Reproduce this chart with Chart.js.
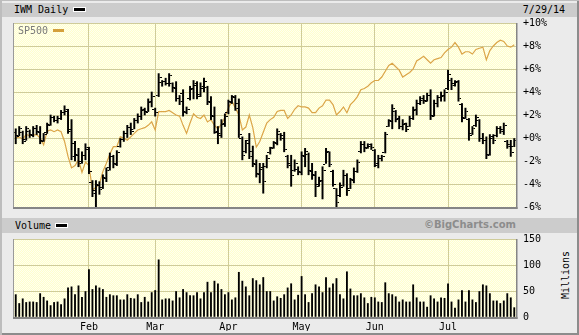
<!DOCTYPE html>
<html>
<head>
<meta charset="utf-8">
<script src="https://cdn.jsdelivr.net/npm/chart.js@4.4.1/dist/chart.umd.min.js"></script>
<style>
  body { margin: 0; }
  #wrap { position: relative; width: 579px; height: 335px; background: #ebebeb; overflow: hidden;
          font-family: "DejaVu Sans Mono", monospace; font-size: 10px; color: #000;
          box-shadow: inset 2px 1px 0 #bdbdbd, inset -2px -2px 0 #8c8c8c; }
  .band { position: absolute; left: 2px; width: 575px; background: #cccccc; }
  .txt { position: absolute; line-height: 12px; white-space: nowrap; }
  .dash { position: absolute; width: 11px; height: 3px; background: #000; border: 1px solid #fff; }
  canvas { position: absolute; left: 0; }
</style>
</head>
<body>
<div id="wrap">
  <div class="band" style="top:3px;height:14px"></div>
  <div class="txt" style="left:14px;top:4px">IWM Daily</div>
  <div class="dash" style="left:73px;top:7px"></div>
  <div class="txt" style="right:14px;top:4px">7/29/14</div>

  <div class="band" style="top:218px;height:15px"></div>
  <div class="txt" style="left:15px;top:220px">Volume</div>
  <div class="dash" style="left:55px;top:223px"></div>
  <div class="txt" style="right:63px;top:219px;font-family:'DejaVu Sans',sans-serif;font-weight:bold;color:#8c8c8c">©BigCharts.com</div>
  <div class="txt" style="left:541px;top:269px;width:50px;text-align:center;transform:rotate(-90deg)">Millions</div>

  <canvas id="graficoPreco" width="579" height="220" style="top:0"></canvas>
  <canvas id="graficoVolume" width="579" height="109" style="top:226px"></canvas>

  <div class="txt" style="left:18px;top:25px;color:#7a7a7a">SP500</div>
  <div style="position:absolute;left:53px;top:29px;width:11px;height:3px;background:#d4a03c"></div>
</div>

<script>
// trading days per month, Jan-Jul 2014
const diasJan = [2,3,6,7,8,9,10,13,14,15,16,17,21,22,23,24,27,28,29,30,31];
const diasFev = [3,4,5,6,7,10,11,12,13,14,18,19,20,21,24,25,26,27,28];
const diasMar = [3,4,5,6,7,10,11,12,13,14,17,18,19,20,21,24,25,26,27,28,31];
const diasAbr = [1,2,3,4,7,8,9,10,11,14,15,16,17,21,22,23,24,25,28,29,30];
const diasMai = [1,2,5,6,7,8,9,12,13,14,15,16,19,20,21,22,23,27,28,29,30];
const diasJun = [2,3,4,5,6,9,10,11,12,13,16,17,18,19,20,23,24,25,26,27,30];
const diasJul = [1,2,3,7,8,9,10,11,14,15,16,17,18,21,22,23,24,25,28,29];
const meses = ['Jan', 'Feb', 'Mar', 'Apr', 'May', 'Jun', 'Jul'];

// IWM, % change
const abertura = [0.5,0.2,0.5,-0.1,0.6,0.3,0.8,0.6,-0.2,0.5, 1.2,1.8,1.5,1.7,2.2,2.3,0.6,-0.5,-1.4,-2.0, -1.5,-1.0,-3.9,-4.6,-4.0,-4.3,-3.4,-2.6,-1.6,-2.2, -0.7,-0.1,0.4,0.9,0.7,1.5,1.9,2.4,2.3,3.1, 2.5,3.7,4.8,4.9,4.7,4.7,4.4,3.4,3.9,2.3, 3.4,4.2,4.6,3.8,4.3,4.4,3.2,2.0,0.5,0.4, 1.2,2.2,3.2,3.6,3.0,0.0,-1.2,-0.2,-1.2,-2.2, -3.1,-2.7,-2.5,-1.3,-0.8,-0.4,0.3,0.2,-1.6,-2.2, -2.8,-2.7,-2.9,-1.5,-1.4,-2.8,-3.2,-4.0,-3.8,-2.3, -1.3,-2.9,-4.4,-5.0,-4.1,-3.3,-4.4,-3.6,-2.9,-1.2, -0.6,-0.8,-0.7,-1.1,-2.4,-1.8,-1.3,1.0,1.5,2.3, 1.6,1.0,1.2,1.0,1.7,2.4,3.0,3.3,3.3,3.7, 2.0,3.0,3.5,3.6,4.3,5.0,4.7,4.8,2.9,1.8, 1.6,0.4,1.1,1.5,0.0,-0.2,-1.4,0.0,0.2,0.8, 0.7,-0.3,-0.6,-0.7];
const maxima = [0.8,1.0,0.6,1.0,0.7,1.0,1.1,1.0,0.4,1.3, 2.0,1.9,1.9,2.4,2.8,2.5,1.6,-0.3,-0.9,-1.2, -0.5,-0.8,-3.7,-3.7,-3.8,-3.2,-2.6,-1.3,-1.5,-1.1, 0.0,0.6,1.1,1.3,1.7,2.1,2.7,2.6,3.4,4.0, 2.6,5.6,5.0,5.2,5.6,4.8,4.9,3.7,4.2,2.7, 4.5,5.0,4.9,4.8,5.2,4.5,3.6,2.7,1.0,1.6, 2.1,3.3,3.7,3.7,3.4,0.1,-0.2,0.4,-0.7,-1.9, -2.2,-2.2,-1.5,-0.8,-0.3,0.8,0.4,0.5,-1.5,-1.5, -1.9,-2.5,-1.2,-0.9,-1.3,-2.2,-2.9,-3.4,-2.5,-0.9, -1.2,-2.8,-4.4,-3.9,-2.8,-3.1,-3.5,-2.6,-1.9,-0.3, -0.3,-0.5,-0.5,-1.0,-1.5,-1.5,0.5,1.6,2.9,2.4, 1.9,1.6,1.3,1.9,2.7,3.3,3.6,3.7,3.9,4.2, 3.3,3.7,4.0,4.2,5.9,5.2,5.0,5.0,3.0,2.6, 1.7,1.0,2.0,1.6,0.4,0.1,0.3,0.3,1.0,1.0, 1.3,-0.2,-0.2,0.0];
const minimas = [-0.5,0.2,-0.5,-0.2,0.0,0.1,0.3,-0.5,-0.3,0.4, 1.1,1.4,1.3,1.6,2.0,0.4,-1.9,-2.0,-2.5,-2.2, -1.9,-3.1,-5.1,-6.05,-4.9,-4.4,-3.8,-2.8,-2.6,-2.4, -0.8,-0.3,0.0,0.3,0.8,1.3,1.6,2.0,2.3,2.7, 1.9,3.6,4.5,4.6,4.5,4.0,3.2,2.9,1.9,2.1, 3.3,3.4,3.4,3.6,4.0,2.9,1.6,0.4,-0.5,0.0, 1.0,2.1,3.0,2.4,0.0,-1.9,-1.3,-1.8,-2.5,-3.4, -3.9,-4.8,-2.6,-1.4,-0.9,-0.6,-0.2,-1.2,-2.6,-4.2, -2.9,-3.2,-3.2,-2.5,-3.2,-3.6,-5.1,-4.2,-5.3,-2.2, -2.5,-4.2,-6.0,-5.1,-4.2,-5.0,-4.4,-3.9,-3.0,-1.3, -1.2,-0.9,-1.0,-2.5,-2.6,-2.0,-1.3,1.0,0.8,1.4, 0.8,0.7,0.55,1.0,1.6,2.0,2.9,3.0,3.2,1.6, 1.9,2.7,3.2,3.2,4.2,4.2,4.5,3.2,1.4,1.7, -0.2,0.3,1.0,-0.3,-0.5,-1.8,-1.5,-0.5,0.1,0.4, 0.3,-0.9,-1.6,-0.75];
const fechamento = [0.1,0.8,-0.3,0.8,0.2,0.8,0.5,-0.3,0.3,1.1, 1.8,1.5,1.7,2.2,2.5,0.7,-1.6,-1.5,-2.2,-1.5, -0.8,-2.9,-4.8,-4.1,-4.5,-3.5,-2.8,-1.6,-2.3,-1.3, -0.1,0.4,0.9,0.6,1.5,1.9,2.5,2.2,3.2,3.6, 2.2,5.3,4.9,4.7,5.4,4.3,3.4,3.2,2.2,2.5, 4.3,4.7,3.6,4.5,4.9,3.1,1.9,0.6,0.2,1.3, 1.9,3.1,3.5,2.6,0.3,-1.5,-0.5,-1.6,-2.3,-3.2, -2.6,-3.8,-1.8,-0.9,-0.5,0.6,0.0,-1.0,-2.4,-3.3, -2.2,-3.0,-1.6,-1.2,-2.9,-3.3,-4.2,-3.7,-2.8,-1.2, -2.3,-4.0,-5.6,-4.3,-3.3,-4.6,-3.7,-2.9,-2.1,-0.6, -0.9,-0.6,-0.8,-2.2,-1.8,-1.6,0.3,1.4,2.6,1.7, 1.0,1.3,0.7,1.7,2.5,3.0,3.4,3.2,3.7,1.9, 3.0,3.5,3.7,4.0,5.5,4.6,4.9,3.4,1.7,2.3, 0.2,0.8,1.8,0.0,-0.2,-1.5,0.1,-0.2,0.8,0.6, 1.1,-0.7,-1.3,-0.2];

// SP500, % change
const sp500 = [0.0,0.1,-0.1,0.3,0.2,0.25,0.3,0.0,-0.6,0.6, 0.7,0.55,0.7,0.55,-0.3,-1.6,-2.6,-2.4,-1.9,-3.0, -2.1,-2.4,-4.5,-4.3,-4.0,-2.9,-2.2,-1.4,-0.75,-0.75, 0.1,0.0,-0.2,0.1,0.4,0.7,0.8,0.9,1.1,1.4, 0.7,2.3,2.3,2.3,2.4,2.2,2.0,1.9,1.1,0.4, 1.3,2.1,1.8,1.7,2.0,1.4,1.6,1.1,0.8,1.2, 1.8,2.6,3.2,2.6,2.0,0.7,0.95,2.0,0.9,-0.8, -0.3,0.5,1.3,1.6,1.8,2.3,2.4,2.4,1.7,2.0, 2.5,2.8,2.7,2.7,2.6,2.2,2.2,2.6,2.8,3.3, 3.3,2.9,2.0,2.3,2.7,2.2,2.9,3.2,3.6,4.2, 4.3,4.5,4.8,5.0,5.0,5.3,5.8,6.3,6.5,6.2, 5.9,5.3,5.5,5.7,6.0,6.7,6.9,7.1,6.8,6.5, 6.8,6.9,7.0,7.4,7.7,7.9,8.3,7.9,7.3,7.5, 7.5,7.3,7.7,7.8,7.9,6.8,7.6,8.0,8.3,8.5, 8.4,8.0,7.9,8.1];

// volume, millions
const volume = [43,26,35,28,29,29,28,45,38,31, 22,28,29,24,35,56,58,43,60,38, 49,91,53,60,56,53,38,43,41,41, 33,33,43,36,35,43,28,38,29,47, 51,110,33,35,35,31,49,37,53,47, 41,41,47,35,47,67,47,69,64,53, 43,47,33,37,86,69,58,41,74,70, 62,76,49,49,31,39,36,43,56,64, 33,42,78,43,28,45,62,58,47,76, 56,64,74,43,35,87,54,41,41,45, 37,26,38,37,29,28,66,45,43,39, 29,33,29,29,62,37,29,29,19,41, 35,29,37,36,64,29,17,33,51,29, 51,33,28,49,62,60,45,31,31,26, 31,45,37,18];

// labels and first day of each month
const datas = [];
const inicioMes = {};
[diasJan, diasFev, diasMar, diasAbr, diasMai, diasJun, diasJul].forEach((dias, m) => {
  inicioMes[datas.length] = meses[m];
  dias.forEach(d => datas.push((m + 1) + '/' + d + '/14'));
});
delete inicioMes[0];

Chart.defaults.font.family = '"DejaVu Sans Mono", monospace';
Chart.defaults.font.size = 10;
Chart.defaults.color = '#000';

const corGrade = '#cfcc9a';

// pale yellow dotted fill
const ladrilho = document.createElement('canvas');
ladrilho.width = 2; ladrilho.height = 2;
const lg = ladrilho.getContext('2d');
lg.fillStyle = '#ffffcc'; lg.fillRect(0, 0, 2, 2);
lg.fillStyle = '#fffff0'; lg.fillRect(0, 0, 1, 1); lg.fillRect(1, 1, 1, 1);

const painel = {
  id: 'painel',
  beforeDraw(chart) {
    const { ctx, chartArea: a } = chart;
    ctx.save();
    ctx.fillStyle = ctx.createPattern(ladrilho, 'repeat');
    ctx.fillRect(a.left, a.top, a.right - a.left, a.bottom - a.top);
    ctx.restore();
  },
  afterDraw(chart) {
    const { ctx, chartArea: a } = chart;
    ctx.save();
    ctx.fillStyle = '#9a9a9a';
    ctx.fillRect(a.left - 1, a.top, 1, a.bottom - a.top);
    ctx.fillStyle = '#858585';
    ctx.fillRect(a.right, a.top, 1.5, a.bottom - a.top + 2);
    ctx.fillRect(a.left - 1, a.bottom, a.right - a.left + 2.5, 2);
    ctx.restore();
  }
};

// open / close ticks
function marca(lado) {
  const c = document.createElement('canvas');
  c.width = 6; c.height = 1;
  const g = c.getContext('2d');
  g.fillStyle = '#000';
  g.fillRect(lado === 'abre' ? 0 : 4, 0, 2, 1);
  return c;
}

// the y axis keeps 13px above and below the plot (label half height + padding),
// so canvas sizes are chosen to land the plots where the reference has them
const eixoX = (mostrar) => ({
  type: 'category',
  offset: true,
  grid: {
    offset: false,
    drawTicks: false,
    color: ctx => (inicioMes[ctx.index] ? corGrade : 'rgba(0,0,0,0)')
  },
  border: { display: false },
  ticks: {
    display: mostrar,
    autoSkip: false,
    maxRotation: 0,
    minRotation: 0,
    padding: 4,
    callback: (v, i) => inicioMes[i] || ''
  },
  afterFit: s => { s.height = mostrar ? 14 : 0; }
});

new Chart(document.getElementById('graficoPreco'), {
  data: {
    labels: datas,
    datasets: [
      { type: 'line', label: 'SP500', data: sp500, borderColor: '#dba548', borderWidth: 1.2,
        pointRadius: 0, tension: 0, order: 3 },
      { type: 'bar', label: 'IWM', data: minimas.map((v, i) => [v, maxima[i]]),
        backgroundColor: '#000', barThickness: 1.3, order: 2 },
      { type: 'line', data: abertura, showLine: false, pointStyle: marca('abre'), pointRadius: 2, order: 1 },
      { type: 'line', data: fechamento, showLine: false, pointStyle: marca('fecha'), pointRadius: 2, order: 1 }
    ]
  },
  options: {
    responsive: false,
    animation: false,
    layout: { padding: { left: 14, top: 23, right: 0, bottom: 2 } },
    plugins: { legend: { display: false }, tooltip: { enabled: false } },
    scales: {
      x: eixoX(false),
      y: {
        position: 'right',
        min: -6, max: 10,
        grid: { color: corGrade, drawTicks: false },
        border: { display: false },
        ticks: {
          stepSize: 2, padding: 7,
          callback: v => (v >= 0 ? '+' : '') + v + '%'
        },
        afterFit: s => { s.width = 63; }
      }
    }
  },
  plugins: [painel]
});

new Chart(document.getElementById('graficoVolume'), {
  type: 'bar',
  data: {
    labels: datas,
    datasets: [{ label: 'Volume', data: volume, backgroundColor: '#000', barThickness: 1.2 }]
  },
  options: {
    responsive: false,
    animation: false,
    layout: { padding: { left: 14, top: 8, right: 0, bottom: 4 } },
    plugins: { legend: { display: false }, tooltip: { enabled: false } },
    scales: {
      x: eixoX(true),
      y: {
        position: 'right',
        min: 0, max: 150,
        grid: { color: corGrade, drawTicks: false },
        border: { display: false },
        ticks: { stepSize: 50, padding: 7 },
        afterFit: s => { s.width = 63; }
      }
    }
  },
  plugins: [painel]
});
</script>
</body>
</html>
